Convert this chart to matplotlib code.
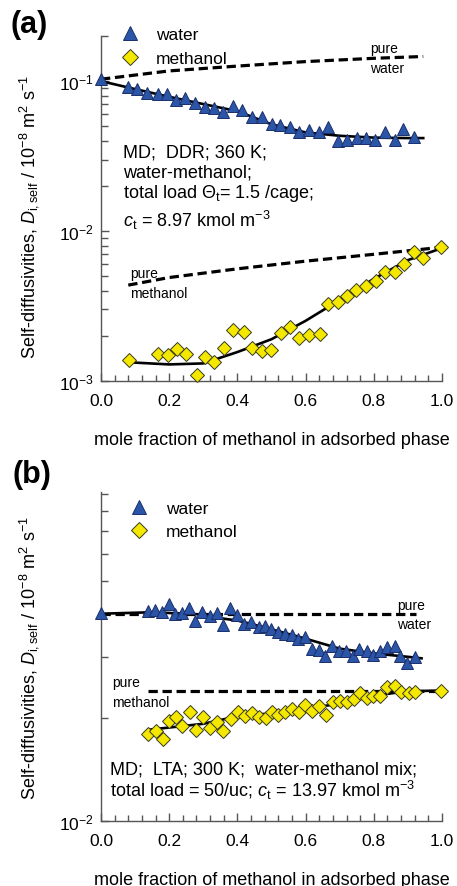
import numpy as np
import matplotlib
matplotlib.use('Agg')
import matplotlib.pyplot as plt
from matplotlib.ticker import MultipleLocator, LogLocator, NullFormatter

plt.rcParams['font.family'] = ['Liberation Sans', 'DejaVu Sans']
plt.rcParams['mathtext.fontset'] = 'custom'
plt.rcParams['mathtext.rm'] = 'Liberation Sans'
plt.rcParams['mathtext.it'] = 'Liberation Sans:italic'
plt.rcParams['mathtext.bf'] = 'Liberation Sans:bold'
plt.rcParams['lines.scale_dashes'] = False

# ---- (a) DDR, 360 K ----
a_water_x = [0.0, 0.08, 0.105, 0.134, 0.166, 0.193, 0.219, 0.247, 0.276, 0.305, 0.332,
             0.359, 0.388, 0.413, 0.442, 0.472, 0.501, 0.525, 0.555, 0.582, 0.611, 0.638,
             0.667, 0.695, 0.721, 0.750, 0.778, 0.804, 0.834, 0.861, 0.887, 0.917]
a_water_y = [0.103, 0.0916, 0.088, 0.0828, 0.082, 0.082, 0.075, 0.0767, 0.071, 0.0674, 0.0657,
             0.0618, 0.0685, 0.0644, 0.0578, 0.0573, 0.0517, 0.0509, 0.0491, 0.0455, 0.0471, 0.0455,
             0.0491, 0.040, 0.0404, 0.0415, 0.0415, 0.0404, 0.0455, 0.0404, 0.0479, 0.0426]
a_water_fit_x = [0.0, 0.1, 0.2, 0.3, 0.4, 0.45, 0.5, 0.6, 0.7, 0.8, 0.9, 0.945]
a_water_fit_y = [0.100, 0.0885, 0.0786, 0.0703, 0.063, 0.057, 0.0515, 0.0455, 0.0432, 0.042, 0.0417, 0.0417]
a_pure_water_x = [0.0, 0.2, 0.4, 0.6, 0.8, 0.945]
a_pure_water_y = [0.103, 0.117, 0.126, 0.135, 0.142, 0.146]

a_meth_x = [0.083, 0.166, 0.196, 0.222, 0.249, 0.281, 0.305, 0.332, 0.361, 0.388, 0.418,
            0.444, 0.473, 0.499, 0.528, 0.553, 0.582, 0.611, 0.641, 0.665, 0.695, 0.721,
            0.748, 0.778, 0.807, 0.834, 0.863, 0.890, 0.917, 0.943, 0.997]
a_meth_y = [0.00138, 0.00151, 0.0015, 0.00163, 0.00151, 0.0011, 0.00145, 0.00133, 0.00165, 0.00219, 0.00211,
            0.00165, 0.00158, 0.00161, 0.00208, 0.0023, 0.00194, 0.00203, 0.00206, 0.00326, 0.00335, 0.0037,
            0.00404, 0.00432, 0.00462, 0.00535, 0.0053, 0.00603, 0.00721, 0.0066, 0.00778]
a_meth_fit_x = [0.09, 0.2, 0.3, 0.4, 0.5, 0.6, 0.7, 0.8, 0.9, 1.0]
a_meth_fit_y = [0.00133, 0.00129, 0.00131, 0.00156, 0.0019, 0.00252, 0.00347, 0.0048, 0.0064, 0.0077]
a_pure_meth_x = [0.08, 0.2, 0.4, 0.6, 0.8, 1.0]
a_pure_meth_y = [0.00436, 0.0049, 0.0056, 0.0063, 0.0070, 0.0078]

# ---- (b) LTA, 300 K ----
b_water_x = [0.0, 0.139, 0.158, 0.178, 0.2, 0.217, 0.239, 0.258, 0.276, 0.297, 0.32, 0.339,
             0.359, 0.379, 0.398, 0.418, 0.44, 0.462, 0.481, 0.499, 0.52, 0.54, 0.56, 0.579,
             0.599, 0.618, 0.638, 0.657, 0.677, 0.697, 0.718, 0.738, 0.758, 0.78, 0.799,
             0.819, 0.839, 0.861, 0.878, 0.897, 0.922]
b_water_y = [0.0404, 0.041, 0.0413, 0.0406, 0.0429, 0.0401, 0.0404, 0.0417, 0.0382, 0.0407, 0.0396, 0.0404,
             0.0372, 0.0417, 0.0398, 0.0376, 0.0381, 0.0367, 0.0369, 0.0363, 0.0355, 0.0351, 0.0348, 0.034,
             0.0344, 0.0318, 0.0315, 0.0303, 0.0323, 0.0312, 0.0314, 0.0303, 0.0318, 0.0314, 0.0305,
             0.0314, 0.0321, 0.0323, 0.0303, 0.0289, 0.030]
b_water_fit_x = [0.0, 0.15, 0.3, 0.35, 0.4, 0.47, 0.5, 0.6, 0.7, 0.8, 0.9, 0.94]
b_water_fit_y = [0.0402, 0.0406, 0.0400, 0.0390, 0.0384, 0.0369, 0.0362, 0.0340, 0.0318, 0.0308, 0.0301, 0.0298]
b_pure_water_x = [0.0, 0.925]
b_pure_water_y = [0.0401, 0.0401]

b_meth_x = [0.139, 0.16, 0.181, 0.2, 0.22, 0.239, 0.261, 0.279, 0.298, 0.32, 0.34, 0.359,
            0.381, 0.401, 0.423, 0.442, 0.462, 0.483, 0.501, 0.52, 0.54, 0.56, 0.581, 0.599,
            0.62, 0.64, 0.659, 0.68, 0.702, 0.721, 0.741, 0.76, 0.78, 0.799, 0.819, 0.839,
            0.861, 0.881, 0.902, 0.922, 0.997]
b_meth_y = [0.01794, 0.0183, 0.01735, 0.0196, 0.02004, 0.01896, 0.02075, 0.01841, 0.02004, 0.01862, 0.0194, 0.01834,
            0.0198, 0.02075, 0.0202, 0.0206, 0.0201, 0.0200, 0.0208, 0.0204, 0.0208, 0.0212, 0.0208, 0.0218,
            0.0209, 0.0216, 0.0204, 0.0222, 0.0224, 0.0222, 0.0227, 0.0236, 0.0229, 0.0232, 0.0232, 0.0245,
            0.0248, 0.0237, 0.0236, 0.0237, 0.024]
b_meth_fit_x = [0.14, 0.3, 0.4, 0.5, 0.6, 0.7, 0.8, 0.9, 1.0]
b_meth_fit_y = [0.01845, 0.0192, 0.0202, 0.0206, 0.0212, 0.022, 0.0232, 0.0239, 0.024]
b_pure_meth_x = [0.138, 1.0]
b_pure_meth_y = [0.024, 0.024]

W, H = 457, 887
BLUE = '#2b55a6'
YELLOW = '#f5e800'
AXC = '#555555'


def fx(px):
    return px / W


def fy(py):
    return 1 - py / H


def style_axes(ax, ylim):
    ax.set_yscale('log')
    ax.set_xlim(0, 1.0)
    ax.set_ylim(*ylim)
    for s in ['top', 'right']:
        ax.spines[s].set_visible(False)
    for s in ['left', 'bottom']:
        ax.spines[s].set_color(AXC)
        ax.spines[s].set_linewidth(1.0)
    ax.xaxis.set_minor_locator(MultipleLocator(0.04))
    ax.set_xticks([0.0, 0.2, 0.4, 0.6, 0.8, 1.0])
    ax.set_xticklabels(['0.0', '0.2', '0.4', '0.6', '0.8', '1.0'])
    ax.yaxis.set_major_locator(LogLocator(base=10))
    ax.yaxis.set_minor_locator(LogLocator(base=10, subs=np.arange(2, 10)))
    ax.yaxis.set_minor_formatter(NullFormatter())
    ax.tick_params(axis='both', which='both', direction='in', color=AXC, width=1.0,
                   labelsize=12.5)
    ax.tick_params(axis='x', which='major', length=6, pad=9)
    ax.tick_params(axis='x', which='minor', length=4)
    ax.tick_params(axis='y', which='major', length=6, pad=5)
    ax.tick_params(axis='y', which='minor', length=5)
    ax.set_xlabel('mole fraction of methanol in adsorbed phase', fontsize=13, labelpad=16)
    ax.set_ylabel(r'Self-diffusivities, $D_{\mathrm{i,self}}$ / 10$^{-8}$ m$^{2}$ s$^{-1}$',
                  fontsize=13)


def draw_panel(ax, wx, wy, wfx, wfy, pwx, pwy, mx, my, mfx, mfy, pmx, pmy):
    dash = (0, (6.7, 3.4))
    ax.plot(pwx, pwy, color='black', lw=2.3, ls=dash, zorder=2)
    ax.plot(pmx, pmy, color='black', lw=2.3, ls=dash, zorder=2)
    ax.plot(wfx, wfy, color='black', lw=1.9, zorder=2)
    ax.plot(mfx, mfy, color='black', lw=1.9, zorder=2)
    hw, = ax.plot(wx, wy, ls='none', marker='^', ms=8.2, mfc=BLUE, mec='#1b2f6b',
                  mew=0.7, zorder=3, clip_on=False)
    hm, = ax.plot(mx, my, ls='none', marker='D', ms=7.0, mfc=YELLOW, mec='#3a3a20',
                  mew=0.7, zorder=3, clip_on=False)
    return hw, hm


fig = plt.figure(figsize=(W / 100, H / 100), dpi=100)

# panel (a)
ax1 = fig.add_axes([fx(101), fy(382), fx(442) - fx(101), fy(37) - fy(382)])
style_axes(ax1, (0.001, 0.2))
hw, hm = draw_panel(ax1, a_water_x, a_water_y, a_water_fit_x, a_water_fit_y,
                    a_pure_water_x, a_pure_water_y, a_meth_x, a_meth_y,
                    a_meth_fit_x, a_meth_fit_y, a_pure_meth_x, a_pure_meth_y)
ax1.yaxis.set_label_coords(-0.175, 0.48)
fig.legend([hw, hm], ['water', 'methanol'], loc='upper left',
           bbox_to_anchor=(fx(121), fy(28)), frameon=False, fontsize=12.5,
           handlelength=1.0, handletextpad=1.0, borderpad=0, borderaxespad=0,
           labelspacing=0.5, markerscale=1.2, numpoints=1)

fig.text(fx(370), fy(53), 'pure', fontsize=10)
fig.text(fx(370), fy(73), 'water', fontsize=10)
fig.text(fx(130), fy(278), 'pure', fontsize=10)
fig.text(fx(130), fy(298), 'methanol', fontsize=10)
fig.text(fx(123), fy(158), 'MD;  DDR; 360 K;', fontsize=13)
fig.text(fx(123), fy(178), 'water-methanol;', fontsize=13)
fig.text(fx(123), fy(198), r'total load $\Theta_{\mathrm{t}}$= 1.5 /cage;', fontsize=13)
fig.text(fx(123), fy(227), r'$c_{\mathrm{t}}$ = 8.97 kmol m$^{-3}$', fontsize=13)
fig.text(fx(10), fy(25), '(a)', fontsize=22, fontweight='bold', va='center')

# panel (b)
ax2 = fig.add_axes([fx(101), fy(822), fx(442) - fx(101), fy(493) - fy(822)])
style_axes(ax2, (0.01, 0.091))
hw, hm = draw_panel(ax2, b_water_x, b_water_y, b_water_fit_x, b_water_fit_y,
                    b_pure_water_x, b_pure_water_y, b_meth_x, b_meth_y,
                    b_meth_fit_x, b_meth_fit_y, b_pure_meth_x, b_pure_meth_y)
ax2.yaxis.set_label_coords(-0.175, 0.5)
fig.legend([hw, hm], ['water', 'methanol'], loc='upper left',
           bbox_to_anchor=(fx(130), fy(502)), frameon=False, fontsize=12.5,
           handlelength=1.0, handletextpad=1.05, borderpad=0, borderaxespad=0,
           labelspacing=0.45, markerscale=1.2, numpoints=1)

fig.text(fx(397), fy(610), 'pure', fontsize=10)
fig.text(fx(397), fy(629), 'water', fontsize=10)
fig.text(fx(112), fy(687), 'pure', fontsize=10)
fig.text(fx(112), fy(707), 'methanol', fontsize=10)
fig.text(fx(110), fy(775), 'MD;  LTA; 300 K;  water-methanol mix;', fontsize=13)
fig.text(fx(110), fy(797), r'total load = 50/uc; $c_{\mathrm{t}}$ = 13.97 kmol m$^{-3}$', fontsize=13)
fig.text(fx(12), fy(475), '(b)', fontsize=22, fontweight='bold', va='center')

fig.savefig('out.png', dpi=100)
